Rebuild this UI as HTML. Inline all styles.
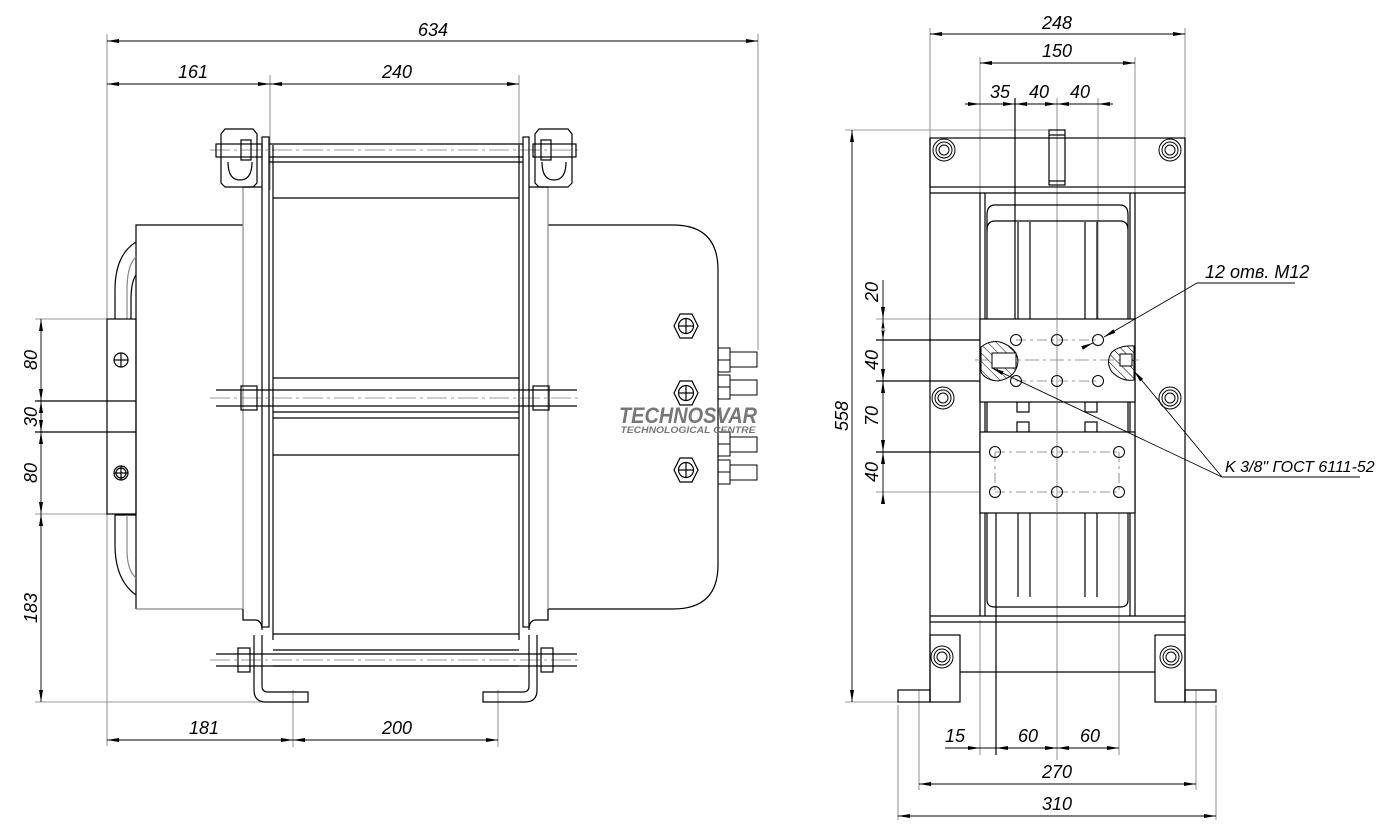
<!DOCTYPE html>
<html><head><meta charset="utf-8"><style>
html,body{margin:0;padding:0;background:#fff;}
svg{display:block;}
text{font-family:"Liberation Sans",sans-serif;font-style:italic;fill:#000;}
</style></head><body>
<svg width="1378" height="837" viewBox="0 0 1378 837" xmlns="http://www.w3.org/2000/svg">
<defs>
<marker id="a" markerWidth="12" markerHeight="6" refX="12" refY="3" orient="auto-start-reverse" markerUnits="userSpaceOnUse"><path d="M0,1 L12,3 L0,5 z" fill="#000"/></marker>
<pattern id="h" width="6" height="6" patternUnits="userSpaceOnUse" patternTransform="rotate(-45)"><line x1="0" y1="0" x2="0" y2="6" stroke="#000" stroke-width="1"/></pattern>
</defs>
<g fill="none" stroke="#000" stroke-width="1.2">
<g stroke="#777" stroke-width="0.8">
<line x1="107" y1="34" x2="107" y2="746"/>
<line x1="758" y1="34" x2="758" y2="350"/>
<line x1="270" y1="75" x2="270" y2="190"/>
<line x1="519" y1="75" x2="519" y2="190"/>
<line x1="35" y1="319" x2="107" y2="319"/>
<line x1="35" y1="514" x2="107" y2="514"/>
<line x1="35" y1="702" x2="300" y2="702"/>
<line x1="293" y1="690" x2="293" y2="747"/>
<line x1="498" y1="690" x2="498" y2="747"/>
<line x1="210" y1="150" x2="582" y2="150" stroke-dasharray="20,4,3,4"/>
<line x1="210" y1="398" x2="582" y2="398" stroke-dasharray="20,4,3,4"/>
<line x1="210" y1="660" x2="582" y2="660" stroke-dasharray="20,4,3,4"/>
</g>
<line x1="107" y1="41" x2="758" y2="41" marker-start="url(#a)" marker-end="url(#a)" stroke-width="0.9"/>
<line x1="107" y1="84" x2="270" y2="84" marker-start="url(#a)" marker-end="url(#a)" stroke-width="0.9"/>
<line x1="270" y1="84" x2="519" y2="84" marker-start="url(#a)" marker-end="url(#a)" stroke-width="0.9"/>
<line x1="107" y1="740" x2="293" y2="740" marker-start="url(#a)" marker-end="url(#a)" stroke-width="0.9"/>
<line x1="293" y1="740" x2="498" y2="740" marker-start="url(#a)" marker-end="url(#a)" stroke-width="0.9"/>
<line x1="41" y1="319" x2="41" y2="401" marker-start="url(#a)" marker-end="url(#a)" stroke-width="0.9"/>
<line x1="41" y1="401" x2="41" y2="432" marker-start="url(#a)" marker-end="url(#a)" stroke-width="0.9"/>
<line x1="41" y1="432" x2="41" y2="514" marker-start="url(#a)" marker-end="url(#a)" stroke-width="0.9"/>
<line x1="41" y1="514" x2="41" y2="702" marker-start="url(#a)" marker-end="url(#a)" stroke-width="0.9"/>

<path d="M136,609 L136,225 L243,225" />
<line x1="243" y1="187" x2="243" y2="620" stroke="#888"/>
<path d="M136,242 Q115,255 115,290 L115,319"/>
<path d="M136,257 Q127,265 127,290 L127,319" stroke="#888"/>
<path d="M136,275 Q131,282 131,300 L131,319"/>
<path d="M136,515 L115,515 L115,545 Q115,580 136,595"/>
<path d="M127,515 L127,550 Q127,570 136,578" stroke="#888"/>
<path d="M136,609 L243,609" stroke="#888"/>
<rect x="107" y="319" width="29" height="195"/>
<line x1="35" y1="401" x2="136" y2="401"/>
<line x1="35" y1="432" x2="136" y2="432"/>
<circle cx="121" cy="360" r="7"/><line x1="114" y1="360" x2="128" y2="360"/><line x1="121" y1="353" x2="121" y2="367"/>
<circle cx="121" cy="473" r="7"/><circle cx="121" cy="473" r="5"/><line x1="114" y1="473" x2="128" y2="473"/><line x1="121" y1="466" x2="121" y2="480"/>

<path d="M548,225 L673,225 Q718,225 718,270 L718,565 Q718,609 673,609 L548,609"/>
<line x1="548" y1="187" x2="548" y2="620" stroke="#888"/>

<path d="M225,129 L253,129 L257,134 L257,183 L253,187 L225,187 L221,183 L221,134 Z"/>
<path d="M228,162 Q228,180 240,180 Q252,180 252,162"/>
<path d="M539,129 L568,129 L572,134 L572,183 L568,187 L539,187 L535,183 L535,134 Z"/>
<path d="M542,162 Q542,180 554,180 Q566,180 566,162"/>
<rect x="216" y="144" width="46" height="13"/>
<rect x="533" y="144" width="43" height="13"/>
<rect x="241" y="140" width="10" height="20"/>
<rect x="541" y="140" width="10" height="20"/>

<rect x="262" y="137" width="7" height="490"/>
<line x1="273" y1="145" x2="273" y2="640"/>
<rect x="523" y="137" width="6" height="490"/>
<line x1="519" y1="145" x2="519" y2="640"/>
<path d="M243,187 L262,187 M529,187 L548,187"/>
<line x1="269" y1="144" x2="523" y2="144"/>
<line x1="269" y1="157" x2="523" y2="157"/>
<line x1="269" y1="162" x2="523" y2="162"/>
<line x1="273" y1="198" x2="519" y2="198"/>
<line x1="273" y1="378" x2="519" y2="378"/>
<line x1="216" y1="390" x2="577" y2="390"/>
<line x1="216" y1="406" x2="577" y2="406"/>
<line x1="273" y1="412" x2="519" y2="412"/>
<line x1="273" y1="418" x2="519" y2="418"/>
<line x1="273" y1="455" x2="519" y2="455"/>
<rect x="241" y="386" width="16" height="24"/>
<rect x="533" y="386" width="16" height="24"/>
<line x1="273" y1="634" x2="519" y2="634"/>
<line x1="273" y1="650" x2="519" y2="650"/>
<line x1="273" y1="666" x2="519" y2="666"/>
<line x1="216" y1="654" x2="577" y2="654"/>
<line x1="216" y1="666" x2="577" y2="666"/>
<rect x="238" y="648" width="12" height="24"/>
<rect x="541" y="648" width="12" height="24"/>
<path d="M243,609 L243,620 L255,620 Q262,620 262,630"/>
<path d="M548,609 L548,620 L536,620 Q529,620 529,630"/>
<path d="M254,635 L254,690 Q254,702 266,702 L308,702 L308,692 L268,692 Q262,692 262,686 L262,635"/>
<path d="M537,635 L537,690 Q537,702 525,702 L483,702 L483,692 L523,692 Q529,692 529,686 L529,635"/>

<g>
<path d="M674,326 l6,-12 h12 l6,12 l-6,12 h-12 z"/><circle cx="686" cy="326" r="7.5"/><line x1="679" y1="326" x2="693" y2="326"/><line x1="686" y1="319" x2="686" y2="333"/>
<path d="M674,393 l6,-12 h12 l6,12 l-6,12 h-12 z"/><circle cx="686" cy="393" r="7.5"/><line x1="679" y1="393" x2="693" y2="393"/><line x1="686" y1="386" x2="686" y2="400"/>
<path d="M674,470 l6,-12 h12 l6,12 l-6,12 h-12 z"/><circle cx="686" cy="470" r="7.5"/><line x1="679" y1="470" x2="693" y2="470"/><line x1="686" y1="463" x2="686" y2="477"/>
</g>
<g stroke-width="1">
<rect x="718" y="348" width="12" height="24"/><rect x="730" y="352" width="27" height="15"/><line x1="718" y1="360" x2="730" y2="360"/>
<rect x="718" y="375" width="12" height="24"/><rect x="730" y="380" width="27" height="15"/><line x1="718" y1="387" x2="730" y2="387"/>
<rect x="718" y="432" width="12" height="24"/><rect x="730" y="437" width="27" height="15"/><line x1="718" y1="444" x2="730" y2="444"/>
<rect x="718" y="460" width="12" height="24"/><rect x="730" y="465" width="27" height="15"/><line x1="718" y1="472" x2="730" y2="472"/>
</g>

<g stroke="#777" stroke-width="0.8">
<line x1="930" y1="28" x2="930" y2="138"/>
<line x1="1185" y1="28" x2="1185" y2="138"/>
<line x1="980" y1="57" x2="980" y2="200"/>
<line x1="1135" y1="57" x2="1135" y2="200"/>
<line x1="1057" y1="98" x2="1057" y2="760"/>
<line x1="1098" y1="98" x2="1098" y2="390"/>
<line x1="845" y1="130" x2="1065" y2="130"/>
<line x1="845" y1="702" x2="900" y2="702"/>
<line x1="876" y1="319" x2="980" y2="319"/>
<line x1="876" y1="492" x2="995" y2="492"/>
<line x1="919" y1="690" x2="919" y2="790"/>
<line x1="1196" y1="690" x2="1196" y2="790"/>
<line x1="898" y1="705" x2="898" y2="820"/>
<line x1="1216" y1="705" x2="1216" y2="820"/>
<line x1="980" y1="620" x2="980" y2="755"/>
<line x1="1119" y1="500" x2="1119" y2="755"/>
</g>
<line x1="1015" y1="98" x2="1015" y2="380"/>
<line x1="996" y1="452" x2="996" y2="755"/>
<line x1="876" y1="340" x2="1016" y2="340"/>
<line x1="876" y1="381" x2="1016" y2="381"/>
<line x1="876" y1="452" x2="995" y2="452"/>
<line x1="930" y1="34" x2="1185" y2="34" marker-start="url(#a)" marker-end="url(#a)" stroke-width="0.9"/>
<line x1="980" y1="63" x2="1135" y2="63" marker-start="url(#a)" marker-end="url(#a)" stroke-width="0.9"/>
<line x1="965" y1="104" x2="1113" y2="104" stroke-width="0.9"/>
<path d="M980,104 l-12,-2 v4z M1015,104 l-12,-2 v4z M1015,104 l12,-2 v4z M1057,104 l-12,-2 v4z M1057,104 l12,-2 v4z M1098,104 l12,-2 v4z" fill="#000" stroke="none"/>
<line x1="852" y1="130" x2="852" y2="702" marker-start="url(#a)" marker-end="url(#a)" stroke-width="0.9"/>
<line x1="883" y1="280" x2="883" y2="500" stroke-width="0.9"/>
<path d="M883,319 l-2,-12 h4z M883,319 l-2,12 h4z M883,340 l-2,-12 h4z M883,381 l-2,-12 h4z M883,381 l-2,12 h4z M883,452 l-2,-12 h4z M883,452 l-2,12 h4z M883,492 l-2,12 h4z" fill="#000" stroke="none"/>
<line x1="945" y1="748" x2="1119" y2="748" stroke-width="0.9"/>
<path d="M980,748 l-12,-2 v4z M996,748 l12,-2 v4z M1057,748 l-12,-2 v4z M1057,748 l12,-2 v4z M1119,748 l-12,-2 v4z" fill="#000" stroke="none"/>
<line x1="919" y1="784" x2="1196" y2="784" marker-start="url(#a)" marker-end="url(#a)" stroke-width="0.9"/>
<line x1="898" y1="816" x2="1216" y2="816" marker-start="url(#a)" marker-end="url(#a)" stroke-width="0.9"/>

<rect x="930" y="138" width="255" height="49"/>
<line x1="930" y1="193" x2="1185" y2="193"/>
<line x1="930" y1="138" x2="930" y2="702"/>
<line x1="1185" y1="138" x2="1185" y2="702"/>
<rect x="1049" y="130" width="16" height="55"/>
<line x1="1049" y1="135" x2="1065" y2="135"/><line x1="1049" y1="181" x2="1065" y2="181"/>
<line x1="980" y1="193" x2="980" y2="616"/>
<line x1="985" y1="193" x2="985" y2="616"/>
<line x1="1130" y1="193" x2="1130" y2="616"/>
<line x1="1135" y1="193" x2="1135" y2="616"/>
<path d="M987,215 Q987,205 995,205 L1120,205 Q1128,205 1128,215"/>
<path d="M987,230 Q987,221 995,221 L1120,221 Q1128,221 1128,230"/>
<line x1="987" y1="215" x2="987" y2="600"/><line x1="1128" y1="215" x2="1128" y2="600"/>
<path d="M987,600 Q987,607 995,607 L1120,607 Q1128,607 1128,600"/>
<line x1="1018" y1="222" x2="1018" y2="319"/><line x1="1030" y1="222" x2="1030" y2="319"/>
<line x1="1085" y1="222" x2="1085" y2="319"/><line x1="1097" y1="222" x2="1097" y2="319"/>
<line x1="1018" y1="513" x2="1018" y2="597"/><line x1="1030" y1="513" x2="1030" y2="597"/>
<line x1="1085" y1="513" x2="1085" y2="597"/><line x1="1097" y1="513" x2="1097" y2="597"/>
<rect x="1017" y="402" width="12" height="10"/><rect x="1017" y="422" width="12" height="10"/>
<rect x="1085" y="402" width="12" height="10"/><rect x="1085" y="422" width="12" height="10"/>
<rect x="980" y="319" width="155" height="83" fill="#fff"/>
<rect x="980" y="432" width="155" height="81" fill="#fff"/>
<line x1="1016" y1="340" x2="1098" y2="340" stroke="#777" stroke-dasharray="10,4,3,4" stroke-width="0.8"/>
<line x1="1016" y1="381" x2="1098" y2="381" stroke="#777" stroke-dasharray="10,4,3,4" stroke-width="0.8"/>
<line x1="975" y1="360" x2="1140" y2="360" stroke="#777" stroke-dasharray="14,4,3,4" stroke-width="0.8"/>
<line x1="995" y1="452" x2="1119" y2="452" stroke="#777" stroke-dasharray="10,4,3,4" stroke-width="0.8"/>
<line x1="995" y1="492" x2="1119" y2="492" stroke="#777" stroke-dasharray="10,4,3,4" stroke-width="0.8"/>
<line x1="995" y1="452" x2="995" y2="492" stroke="#777" stroke-dasharray="10,4,3,4" stroke-width="0.8"/>
<line x1="1119" y1="452" x2="1119" y2="492" stroke="#777" stroke-dasharray="10,4,3,4" stroke-width="0.8"/>
<line x1="1057" y1="319" x2="1057" y2="513" stroke="#777" stroke-width="0.8"/>
<g stroke-width="1">
<circle cx="1016" cy="340" r="5.5"/><circle cx="1057" cy="340" r="5.5"/><circle cx="1098" cy="340" r="5.5"/>
<circle cx="1016" cy="381" r="5.5"/><circle cx="1057" cy="381" r="5.5"/><circle cx="1098" cy="381" r="5.5"/>
<circle cx="995" cy="452" r="5.5"/><circle cx="1057" cy="452" r="5.5"/><circle cx="1119" cy="452" r="5.5"/>
<circle cx="995" cy="492" r="5.5"/><circle cx="1057" cy="492" r="5.5"/><circle cx="1119" cy="492" r="5.5"/>
</g>
<path d="M981,347 Q990,340 1000,342 Q1018,348 1018,362 Q1016,378 998,381 Q985,380 981,372 Z" fill="url(#h)" stroke="#000" stroke-width="1"/>
<rect x="992" y="353" width="24" height="15" fill="#fff" stroke="#000" stroke-width="1"/>
<path d="M1134,346 Q1120,345 1112,352 Q1105,362 1112,372 Q1122,382 1134,380 Z" fill="url(#h)" stroke="#000" stroke-width="1"/>
<rect x="1120" y="354" width="12" height="12" fill="#fff" stroke="#000" stroke-width="1"/>
<line x1="930" y1="616" x2="1185" y2="616"/>
<line x1="930" y1="622" x2="1185" y2="622"/>
<rect x="930" y="635" width="30" height="67"/>
<rect x="1155" y="635" width="30" height="67"/>
<line x1="960" y1="672" x2="1155" y2="672"/>
<rect x="898" y="690" width="32" height="12"/>
<rect x="1185" y="690" width="31" height="12"/>
<g stroke-width="1">
<circle cx="944" cy="150" r="11"/><circle cx="944" cy="150" r="8"/><circle cx="944" cy="150" r="5"/>
<circle cx="1170" cy="150" r="11"/><circle cx="1170" cy="150" r="8"/><circle cx="1170" cy="150" r="5"/>
<circle cx="943" cy="398" r="11"/><circle cx="943" cy="398" r="8"/><circle cx="943" cy="398" r="5"/>
<circle cx="1170" cy="398" r="11"/><circle cx="1170" cy="398" r="8"/><circle cx="1170" cy="398" r="5"/>
<circle cx="942" cy="657" r="11"/><circle cx="942" cy="657" r="8"/><circle cx="942" cy="657" r="5"/>
<circle cx="1171" cy="657" r="11"/><circle cx="1171" cy="657" r="8"/><circle cx="1171" cy="657" r="5"/>
</g>
<g stroke-width="0.9">
<line x1="1295" y1="283" x2="1197" y2="283"/>
<line x1="1197" y1="283" x2="1104" y2="337" marker-end="url(#a)"/>
<line x1="1082" y1="348" x2="1093" y2="343" marker-end="url(#a)"/>
<line x1="1360" y1="477" x2="1222" y2="477"/>
<line x1="1222" y1="477" x2="992" y2="368" marker-end="url(#a)"/>
<line x1="1222" y1="477" x2="1134" y2="371" marker-end="url(#a)"/>
</g>
</g>

<g font-size="18">
<text x="433" y="36" text-anchor="middle">634</text>
<text x="193" y="78" text-anchor="middle">161</text>
<text x="397" y="78" text-anchor="middle">240</text>
<text x="204" y="734" text-anchor="middle">181</text>
<text x="397" y="734" text-anchor="middle">200</text>
<text transform="translate(37,360) rotate(-90)" text-anchor="middle">80</text>
<text transform="translate(37,417) rotate(-90)" text-anchor="middle">30</text>
<text transform="translate(37,473) rotate(-90)" text-anchor="middle">80</text>
<text transform="translate(37,608) rotate(-90)" text-anchor="middle">183</text>
<text x="1057" y="29" text-anchor="middle">248</text>
<text x="1057" y="57" text-anchor="middle">150</text>
<text x="1000" y="98" text-anchor="middle">35</text>
<text x="1039" y="98" text-anchor="middle">40</text>
<text x="1080" y="98" text-anchor="middle">40</text>
<text transform="translate(848,416) rotate(-90)" text-anchor="middle">558</text>
<text transform="translate(878,292) rotate(-90)" text-anchor="middle">20</text>
<text transform="translate(878,360) rotate(-90)" text-anchor="middle">40</text>
<text transform="translate(878,416) rotate(-90)" text-anchor="middle">70</text>
<text transform="translate(878,472) rotate(-90)" text-anchor="middle">40</text>
<text x="955" y="742" text-anchor="middle">15</text>
<text x="1028" y="742" text-anchor="middle">60</text>
<text x="1090" y="742" text-anchor="middle">60</text>
<text x="1057" y="778" text-anchor="middle">270</text>
<text x="1057" y="810" text-anchor="middle">310</text>
<text x="1205" y="278">12 отв. M12</text>
<text x="1225" y="472" font-size="16">K 3/8" ГОСТ 6111-52</text>
</g>
<text x="688" y="423" text-anchor="middle" font-size="22" font-weight="bold" style="fill:#777" textLength="138" lengthAdjust="spacingAndGlyphs">TECHNOSVAR</text>
<text x="688" y="433" text-anchor="middle" font-size="9" font-weight="bold" style="fill:#777" textLength="135" lengthAdjust="spacingAndGlyphs">TECHNOLOGICAL CENTRE</text>
</svg>
</body></html>
